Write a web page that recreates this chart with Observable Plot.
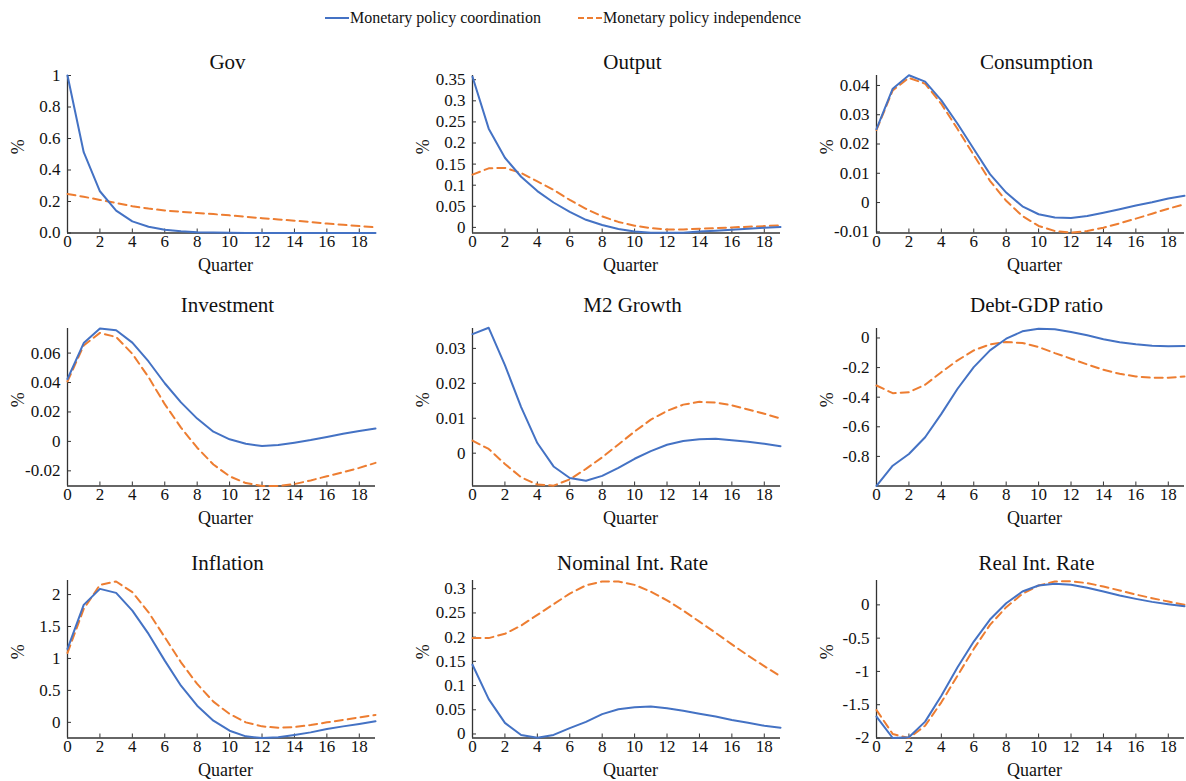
<!DOCTYPE html>
<html>
<head>
<meta charset="utf-8">
<script src="https://cdn.jsdelivr.net/npm/d3@7"></script>
<script src="https://cdn.jsdelivr.net/npm/@observablehq/plot@0.6"></script>
<style>
  body { margin: 0; background: #fff; }
  #chart { position: relative; width: 1186px; height: 781px; font-family: "Liberation Serif", "Times New Roman", serif; }
  .panel { position: absolute; }
  .legend { position: absolute; top: 5px; left: 0; width: 1186px; height: 26px; font-size: 16px; color: #111; }
  .legend .item { position: absolute; top: 0; display: flex; align-items: center; height: 26px; }
</style>
</head>
<body>
<div id="chart"></div>
<script>
// ---- data ----
const quarters = d3.range(0, 20);
const seriesNames = ["Monetary policy coordination", "Monetary policy independence"];
const seriesColors = ["#4472C4", "#ED7D31"];

const panelTitles = ["Gov", "Output", "Consumption", "Investment", "M2 Growth", "Debt-GDP ratio", "Inflation", "Nominal Int. Rate", "Real Int. Rate"];

const govCoord = [1.0, 0.513, 0.265, 0.142, 0.074, 0.04, 0.021, 0.011, 0.005, 0.003, 0.001, 0.0005, 0, 0, 0, 0, 0, 0, 0, 0];
const govIndep = [0.248, 0.23, 0.21, 0.19, 0.17, 0.155, 0.143, 0.135, 0.127, 0.12, 0.112, 0.103, 0.094, 0.086, 0.078, 0.07, 0.06, 0.052, 0.044, 0.036];

const outputCoord = [0.357, 0.234, 0.165, 0.12, 0.086, 0.059, 0.037, 0.018, 0.0055, -0.004, -0.0095, -0.0125, -0.013, -0.0125, -0.01, -0.008, -0.0055, -0.003, -0.001, 0.001];
const outputIndep = [0.125, 0.14, 0.141, 0.129, 0.109, 0.089, 0.065, 0.044, 0.026, 0.013, 0.004, -0.0016, -0.005, -0.005, -0.003, -0.0016, 0, 0.0016, 0.003, 0.005];

const consCoord = [0.0251, 0.0389, 0.0435, 0.0413, 0.0349, 0.0269, 0.0183, 0.0097, 0.0034, -0.0013, -0.004, -0.0051, -0.0053, -0.0046, -0.0035, -0.0023, -0.001, 0.0001, 0.0014, 0.0023];
const consIndep = [0.0248, 0.0383, 0.0426, 0.0406, 0.0337, 0.0251, 0.0162, 0.0074, 0.0006, -0.0046, -0.008, -0.0097, -0.0103, -0.0097, -0.0086, -0.0071, -0.0055, -0.0038, -0.0021, -0.0006];

const invCoord = [0.0424, 0.0668, 0.0767, 0.0755, 0.0671, 0.0543, 0.0395, 0.0265, 0.0155, 0.0066, 0.0014, -0.0016, -0.0032, -0.0025, -0.0009, 0.0009, 0.003, 0.0052, 0.0071, 0.0087];
const invIndep = [0.0408, 0.0652, 0.0737, 0.0709, 0.0595, 0.0436, 0.0253, 0.0094, -0.0043, -0.0157, -0.0237, -0.0283, -0.0303, -0.0303, -0.029, -0.0265, -0.0237, -0.021, -0.018, -0.0146];

const m2Coord = [0.0341, 0.0359, 0.0252, 0.0132, 0.0029, -0.0038, -0.0071, -0.0079, -0.0065, -0.0042, -0.0016, 0.0006, 0.0024, 0.0035, 0.004, 0.0041, 0.0037, 0.0033, 0.0027, 0.002];
const m2Indep = [0.0036, 0.0012, -0.0031, -0.0069, -0.009, -0.0093, -0.0075, -0.0045, -0.0012, 0.0025, 0.0062, 0.0096, 0.0121, 0.0139, 0.0147, 0.0145, 0.0137, 0.0125, 0.0113, 0.0099];

const debtCoord = [-0.999, -0.863, -0.784, -0.671, -0.513, -0.343, -0.197, -0.084, -0.005, 0.045, 0.063, 0.059, 0.041, 0.018, -0.009, -0.029, -0.043, -0.052, -0.056, -0.054];
const debtIndep = [-0.321, -0.373, -0.366, -0.316, -0.231, -0.151, -0.084, -0.043, -0.027, -0.034, -0.061, -0.102, -0.14, -0.179, -0.215, -0.242, -0.26, -0.269, -0.269, -0.26];

const inflCoord = [1.149, 1.838, 2.089, 2.026, 1.749, 1.384, 0.966, 0.574, 0.261, 0.026, -0.131, -0.219, -0.245, -0.235, -0.198, -0.157, -0.104, -0.063, -0.026, 0.016];
const inflIndep = [1.086, 1.775, 2.151, 2.204, 2.037, 1.723, 1.332, 0.94, 0.601, 0.324, 0.131, 0, -0.063, -0.084, -0.073, -0.042, 0, 0.037, 0.078, 0.115];

const nomCoord = [0.143, 0.072, 0.023, -0.002, -0.008, -0.002, 0.012, 0.025, 0.041, 0.051, 0.055, 0.057, 0.053, 0.048, 0.042, 0.036, 0.029, 0.023, 0.017, 0.013];
const nomIndep = [0.198, 0.198, 0.207, 0.224, 0.246, 0.268, 0.29, 0.307, 0.315, 0.315, 0.308, 0.294, 0.276, 0.255, 0.232, 0.209, 0.185, 0.162, 0.14, 0.119];

const realCoord = [-1.679, -2.0, -1.99, -1.754, -1.364, -0.937, -0.551, -0.221, 0.025, 0.2, 0.291, 0.316, 0.301, 0.256, 0.2, 0.14, 0.09, 0.045, 0.01, -0.02];
const realIndep = [-1.579, -1.94, -2.0, -1.815, -1.464, -1.063, -0.662, -0.301, -0.035, 0.165, 0.291, 0.351, 0.356, 0.326, 0.276, 0.216, 0.155, 0.1, 0.05, 0];

// tick values (y) per panel
const govTicks = [0, 0.2, 0.4, 0.6, 0.8, 1];
const outputTicks = [0, 0.05, 0.1, 0.15, 0.2, 0.25, 0.3, 0.35];
const consTicks = [-0.01, 0, 0.01, 0.02, 0.03, 0.04];
const invTicks = [-0.02, 0, 0.02, 0.04, 0.06];
const m2Ticks = [0, 0.01, 0.02, 0.03];
const debtTicks = [-0.8, -0.6, -0.4, -0.2, 0];
const inflTicks = [0, 0.5, 1, 1.5, 2];
const nomTicks = [0, 0.05, 0.1, 0.15, 0.2, 0.25, 0.3];
const realTicks = [-2, -1.5, -1, -0.5, 0];
const xTicks = [0, 2, 4, 6, 8, 10, 12, 14, 16, 18];

// y domains per panel
const yDomains = [
  [0, 1], [-0.0133, 0.36], [-0.0104, 0.0434],
  [-0.0303, 0.0767], [-0.0094, 0.0357], [-1.0, 0.064],
  [-0.245, 2.22], [-0.0083, 0.317], [-2.0, 0.366]
];

const panels = [
  [govCoord, govIndep, govTicks],
  [outputCoord, outputIndep, outputTicks],
  [consCoord, consIndep, consTicks],
  [invCoord, invIndep, invTicks],
  [m2Coord, m2Indep, m2Ticks],
  [debtCoord, debtIndep, debtTicks],
  [inflCoord, inflIndep, inflTicks],
  [nomCoord, nomIndep, nomTicks],
  [realCoord, realIndep, realTicks]
];

// ---- layout ----
const colLeft = [67, 472, 876];
const rowTop = [74.5, 328, 580];
const plotW = 308, plotH = 157.5;
const ML = 64, MR = 12, MT = 40, MB = 50;
const titleDy = [-13.7, -23.2, -17.7];

const fmt = d => {
  if (d === 0) return "0";
  return String(+d.toFixed(6));
};

const chart = document.getElementById("chart");

// legend
const legend = document.createElement("div");
legend.className = "legend";
const legendX = [325, 578];
seriesNames.forEach((name, i) => {
  const item = document.createElement("div");
  item.className = "item";
  item.style.left = legendX[i] + "px";
  const dash = i === 1 ? 'stroke-dasharray="6,3"' : '';
  item.innerHTML = `<svg width="24" height="10" style="display:block"><line x1="0" x2="24" y1="5" y2="5" stroke="${seriesColors[i]}" stroke-width="2" ${dash}/></svg><span style="margin-left:1px">${name}</span>`;
  legend.appendChild(item);
});
chart.appendChild(legend);

panels.forEach(([coord, indep, ticks], p) => {
  const r = Math.floor(p / 3), c = p % 3;
  const rows = [];
  quarters.forEach((q, i) => {
    rows.push({q, v: coord[i], s: seriesNames[0]});
  });
  quarters.forEach((q, i) => {
    rows.push({q, v: indep[i], s: seriesNames[1]});
  });
  const tickFmt = p === 0 ? (d => d === 0 ? "0.0" : d === 1 ? "1" : d.toFixed(1)) : fmt;
  const yDom = yDomains[p];
  const plot = Plot.plot({
    width: ML + plotW + MR,
    height: MT + plotH + MB,
    marginLeft: ML, marginRight: MR, marginTop: MT, marginBottom: MB,
    style: {fontFamily: '"Liberation Serif", "Times New Roman", serif', fontSize: "17px", color: "#111", background: "transparent", overflow: "visible"},
    x: {domain: [0, 19]},
    y: {domain: yDom},
    marks: [
      Plot.axisX(xTicks, {tickSize: -4, tickPadding: 6, tickFormat: d => String(d), label: null, stroke: "#333", fontSize: 17}),
      Plot.axisY(ticks, {tickSize: -4, tickPadding: 11, tickFormat: tickFmt, label: null, stroke: "#333", fontSize: 17}),
      Plot.ruleX([0], {stroke: "#333", strokeWidth: 1.3}),
      Plot.ruleY([yDom[0]], {stroke: "#333", strokeWidth: 1.3}),
      Plot.line(rows.filter(d => d.s === seriesNames[1]), {x: "q", y: "v", stroke: seriesColors[1], strokeWidth: 2, strokeDasharray: "8,5", curve: "linear"}),
      Plot.line(rows.filter(d => d.s === seriesNames[0]), {x: "q", y: "v", stroke: seriesColors[0], strokeWidth: 2, curve: "linear"}),
      Plot.text([panelTitles[p]], {frameAnchor: "top", dy: titleDy[r], dx: 6, fontSize: 21, lineAnchor: "middle", fill: "#111"}),
      Plot.text(["Quarter"], {frameAnchor: "bottom", dy: 32, dx: 4, fontSize: 18, lineAnchor: "middle", fill: "#111"}),
      Plot.text(["%"], {frameAnchor: "left", dx: -49, rotate: -90, fontSize: 18, lineAnchor: "middle", fill: "#111"})
    ]
  });
  plot.classList.add("panel");
  plot.style.left = (colLeft[c] - ML) + "px";
  plot.style.top = (rowTop[r] - MT) + "px";
  chart.appendChild(plot);
});
</script>
</body>
</html>
